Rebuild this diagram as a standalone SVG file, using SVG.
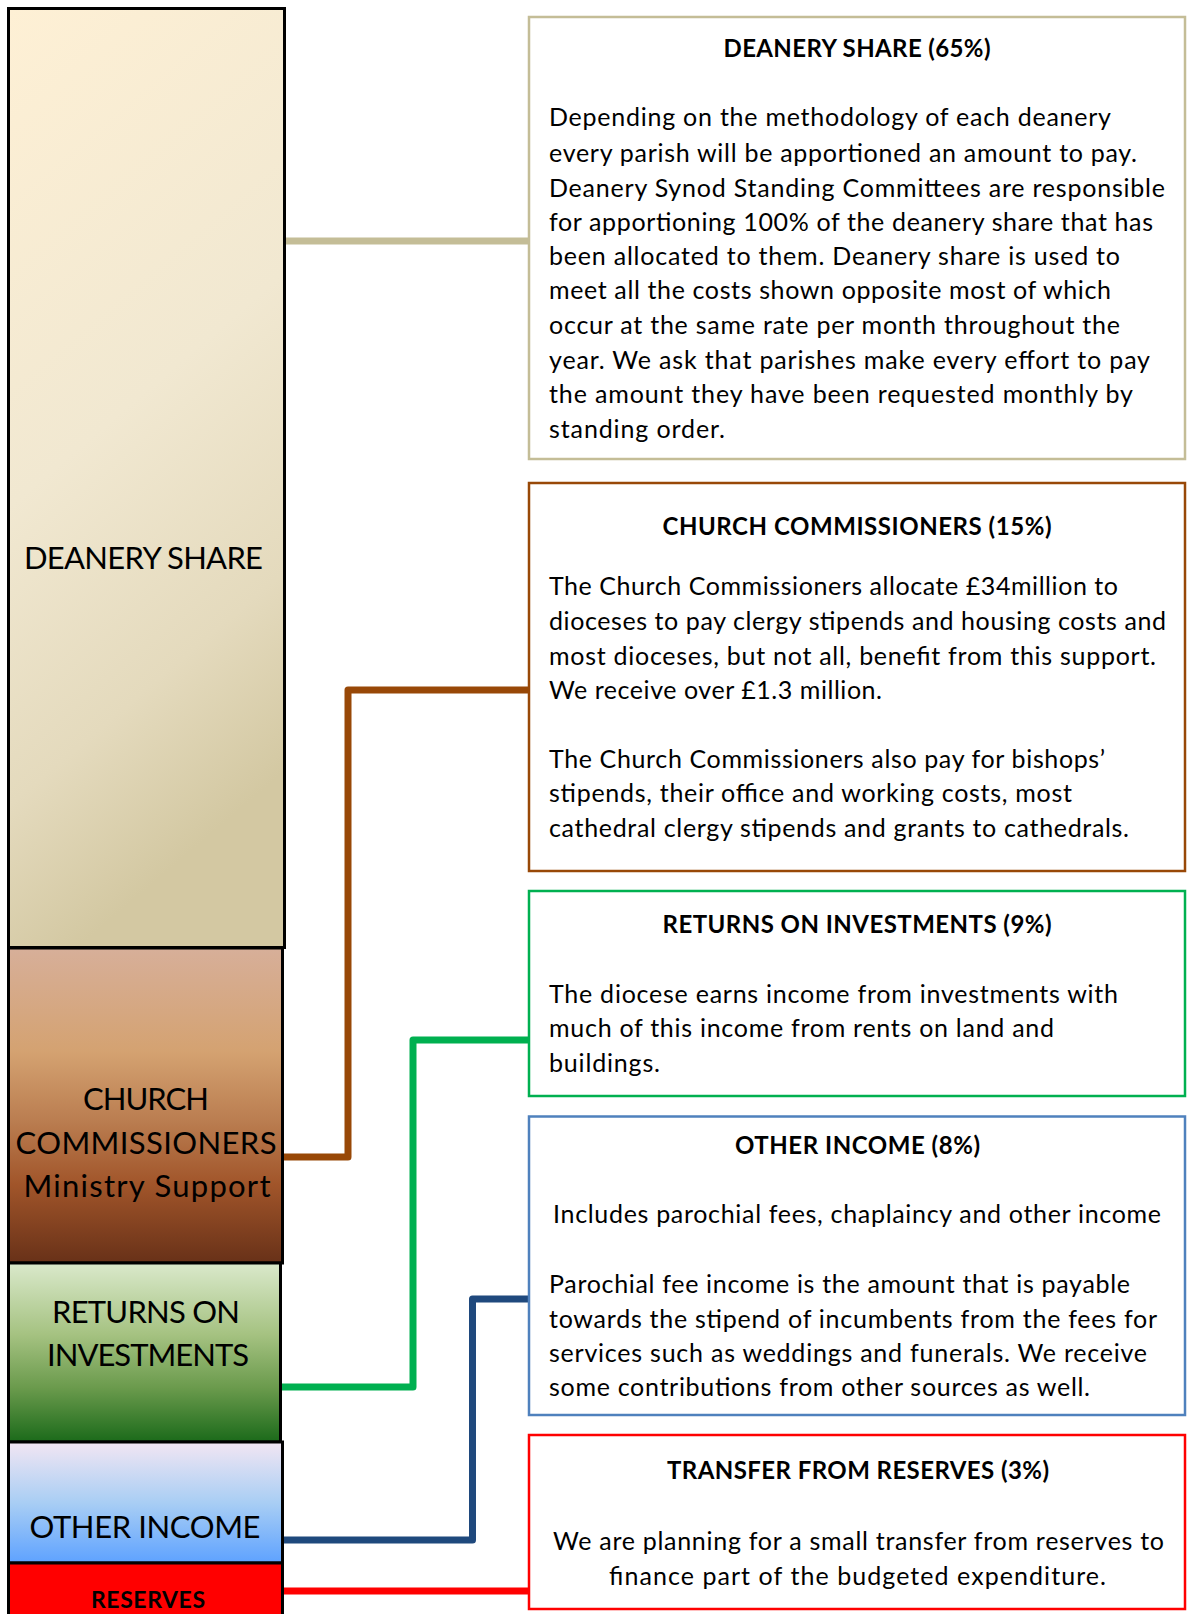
<svg xmlns="http://www.w3.org/2000/svg" width="1187" height="1614" viewBox="0 0 1187 1614">
<defs>
<linearGradient id="gDean" x1="0" y1="0" x2="0.25" y2="1">
<stop offset="0" stop-color="#FEF0D5"/>
<stop offset="0.5" stop-color="#F1E8D1"/>
<stop offset="0.8" stop-color="#E4DABD"/>
<stop offset="1" stop-color="#D3C8A2"/>
</linearGradient>
<linearGradient id="gChurch" x1="0" y1="0" x2="0" y2="1">
<stop offset="0" stop-color="#D7AF99"/>
<stop offset="0.33" stop-color="#D4A271"/>
<stop offset="0.55" stop-color="#BA7D50"/>
<stop offset="0.75" stop-color="#A1552A"/>
<stop offset="1" stop-color="#683118"/>
</linearGradient>
<linearGradient id="gRet" x1="0" y1="0" x2="0" y2="1">
<stop offset="0" stop-color="#DAE9CB"/>
<stop offset="0.4" stop-color="#A5C281"/>
<stop offset="0.7" stop-color="#6A9A4C"/>
<stop offset="1" stop-color="#1B6A1A"/>
</linearGradient>
<linearGradient id="gOther" x1="0" y1="0" x2="0" y2="1">
<stop offset="0" stop-color="#F2E6F3"/>
<stop offset="0.5" stop-color="#A9CEF4"/>
<stop offset="1" stop-color="#5EA2FF"/>
</linearGradient>
</defs>
<style>
.col{stroke:#000;stroke-width:3}
.box{fill:#fff;stroke-width:2.5}
.conn{fill:none;stroke-width:7;stroke-linejoin:round}
.ct{font-family:Lato,"Liberation Sans",sans-serif;font-size:31px;fill:#000;text-anchor:middle}
.ctb{font-family:Lato,"Liberation Sans",sans-serif;font-size:23px;font-weight:bold;fill:#000;text-anchor:middle}
.t{font-family:Lato,"Liberation Sans",sans-serif;font-size:24px;font-weight:bold;fill:#000;text-anchor:middle}
.b{font-family:Lato,"Liberation Sans",sans-serif;font-size:25px;fill:#000}
.bc{font-family:Lato,"Liberation Sans",sans-serif;font-size:25px;fill:#000;text-anchor:middle}
</style>
<rect width="1187" height="1614" fill="#fff"/>

<g id="connectors">
<path class="conn" stroke="#C4BD97" d="M285 241 H530"/>
<path class="conn" stroke="#984807" d="M283 1157 H348 V690 H530"/>
<path class="conn" stroke="#00B050" d="M281 1387 H413 V1040 H530"/>
<path class="conn" stroke="#1F497D" d="M283 1540 H472.5 V1299 H530"/>
<path class="conn" stroke="#FF0000" d="M283 1591 H530"/>
</g>

<g id="col-deanery">
<rect class="col" x="8.5" y="8.5" width="276" height="939" fill="url(#gDean)"/>
<text class="ct" x="143.5" y="569" textLength="239">DEANERY SHARE</text>
</g>
<g id="col-church">
<rect class="col" x="8.5" y="948" width="274" height="315" fill="url(#gChurch)"/>
<text class="ct" x="146" y="1110" textLength="126">CHURCH</text>
<text class="ct" x="146" y="1154" textLength="261">COMMISSIONERS</text>
<text class="ct" x="147" y="1197" textLength="247">Ministry Support</text>
</g>
<g id="col-returns">
<rect class="col" x="8.5" y="1263" width="272" height="179" fill="url(#gRet)"/>
<text class="ct" x="146" y="1323" textLength="188">RETURNS ON</text>
<text class="ct" x="148" y="1366" textLength="202">INVESTMENTS</text>
</g>
<g id="col-other">
<rect class="col" x="8.5" y="1442" width="274" height="121" fill="url(#gOther)"/>
<text class="ct" x="145" y="1538" textLength="231">OTHER INCOME</text>
</g>
<g id="col-reserves">
<rect class="col" x="8.5" y="1563" width="274" height="60" fill="#FF0000"/>
<text class="ctb" x="148" y="1608" textLength="114">RESERVES</text>
</g>

<g id="box-deanery">
<rect class="box" x="529" y="17" width="656" height="442" stroke="#C4BD97"/>
<text class="t" x="857" y="57" textLength="267">DEANERY SHARE (65%)</text>
<text class="b" x="549" y="126" textLength="562">Depending on the methodology of each deanery</text>
<text class="b" x="549" y="162" textLength="588">every parish will be apportioned an amount to pay.</text>
<text class="b" x="549" y="197" textLength="616">Deanery Synod Standing Committees are responsible</text>
<text class="b" x="549" y="231" textLength="604">for apportioning 100%  of the deanery share that has</text>
<text class="b" x="549" y="265" textLength="571">been allocated to them.  Deanery share is used to</text>
<text class="b" x="549" y="299" textLength="562">meet all the costs shown opposite most of which</text>
<text class="b" x="549" y="334" textLength="571">occur at  the same rate per month throughout the</text>
<text class="b" x="549" y="369" textLength="601">year.  We ask that parishes make every effort to pay</text>
<text class="b" x="549" y="403" textLength="584">the amount they have been requested monthly by</text>
<text class="b" x="549" y="438" textLength="176">standing order.</text>
</g>

<g id="box-church">
<rect class="box" x="529" y="483" width="656" height="388" stroke="#984807"/>
<text class="t" x="857" y="535" textLength="389">CHURCH COMMISSIONERS (15%)</text>
<text class="b" x="549" y="595" textLength="569">The Church Commissioners allocate £34million  to</text>
<text class="b" x="549" y="630" textLength="617">dioceses to pay clergy stipends and housing costs and</text>
<text class="b" x="549" y="665" textLength="607">most dioceses, but not all, benefit from this support.</text>
<text class="b" x="549" y="699" textLength="333">We receive over £1.3 million.</text>
<text class="b" x="549" y="768" textLength="556">The Church Commissioners also pay for bishops’</text>
<text class="b" x="549" y="802" textLength="523">stipends, their office and working costs, most</text>
<text class="b" x="549" y="837" textLength="580">cathedral clergy stipends and grants to cathedrals.</text>
</g>

<g id="box-returns">
<rect class="box" x="529" y="891" width="656" height="205" stroke="#00B050"/>
<text class="t" x="857" y="933" textLength="389">RETURNS ON INVESTMENTS (9%)</text>
<text class="b" x="549" y="1003" textLength="569">The diocese earns income from investments with</text>
<text class="b" x="549" y="1037" textLength="505">much of this income from rents on land and</text>
<text class="b" x="549" y="1072" textLength="111">buildings.</text>
</g>

<g id="box-other">
<rect class="box" x="529" y="1116.5" width="656" height="298.5" stroke="#4F81BD"/>
<text class="t" x="857.5" y="1154" textLength="245">OTHER INCOME (8%)</text>
<text class="bc" x="857" y="1223" textLength="608">Includes parochial fees, chaplaincy and other income</text>
<text class="b" x="549" y="1293" textLength="581">Parochial fee income is  the amount that is payable</text>
<text class="b" x="549" y="1328" textLength="608">towards the stipend of incumbents from the fees for</text>
<text class="b" x="549" y="1362" textLength="598">services such as weddings and funerals.  We receive</text>
<text class="b" x="549" y="1396" textLength="541">some contributions from other sources as well.</text>
</g>

<g id="box-reserves">
<rect class="box" x="529" y="1435" width="656" height="174" stroke="#FF0000"/>
<text class="t" x="858" y="1479" textLength="382">TRANSFER FROM  RESERVES (3%)</text>
<text class="bc" x="858.5" y="1550" textLength="611">We are planning for a small transfer from reserves to</text>
<text class="bc" x="857.5" y="1585" textLength="497">finance part of  the budgeted expenditure.</text>
</g>
</svg>
